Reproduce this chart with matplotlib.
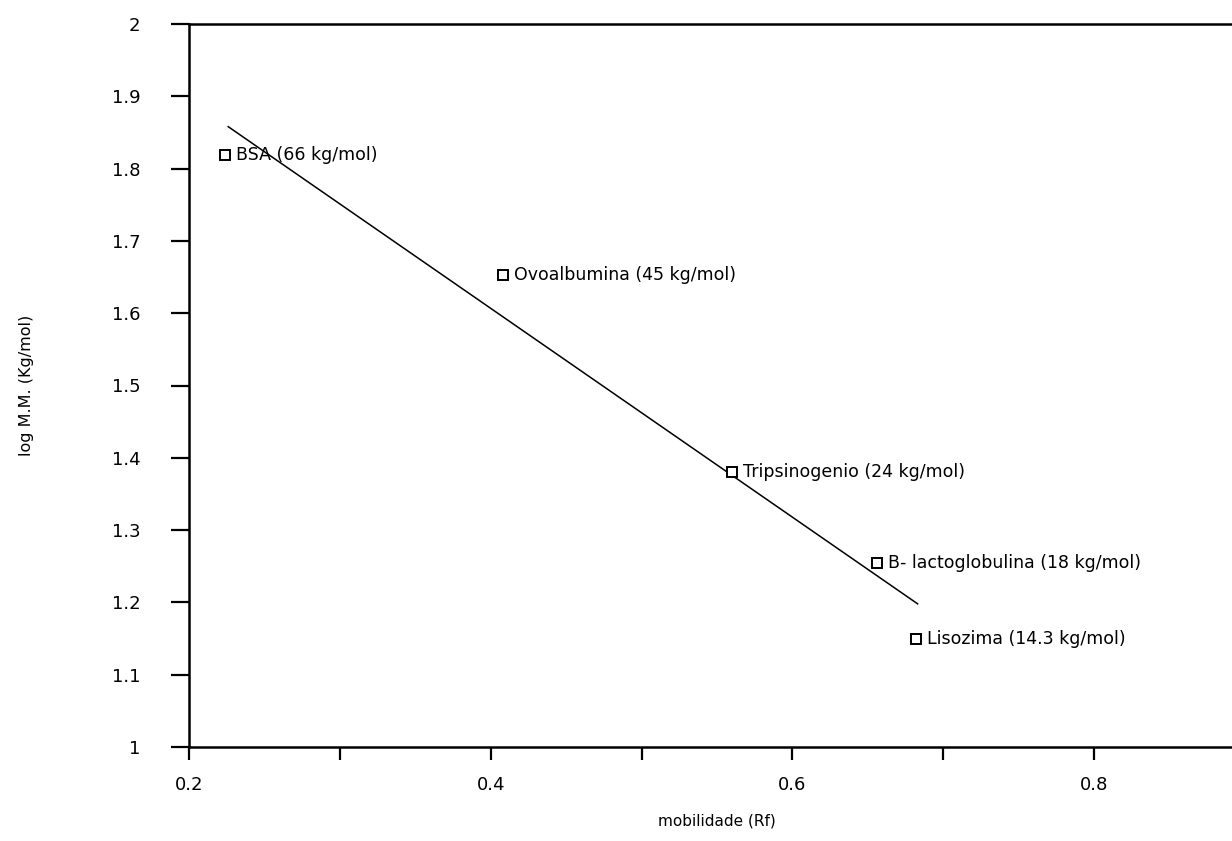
import matplotlib
matplotlib.use("Agg")
import matplotlib.pyplot as plt

# padroes de proteina: mobilidade relativa (Rf) e log da massa molar
proteinas = ["BSA (66 kg/mol)", "Ovoalbumina (45 kg/mol)", "Tripsinogenio (24 kg/mol)",
             "B- lactoglobulina (18 kg/mol)", "Lisozima (14.3 kg/mol)"]
rf = [0.224, 0.408, 0.560, 0.656, 0.682]
log_mm = [1.819, 1.653, 1.380, 1.255, 1.150]

# reta de ajuste (inicio e fim)
reta_x = [0.226, 0.683]
reta_y = [1.858, 1.198]

plt.rcParams['font.family'] = ['DejaVu Sans']

fig = plt.figure(figsize=(12.32, 8.41), dpi=100)
ax = fig.add_axes([189 / 1232, 94 / 841, 1056 / 1232, 723 / 841])

ax.plot(reta_x, reta_y, color='black', linewidth=1.1)
ax.plot(rf, log_mm, linestyle='none', marker='s', markersize=7.5,
        markerfacecolor='white', markeredgecolor='black', markeredgewidth=1.4)

for x, y, nome in zip(rf, log_mm, proteinas):
    ax.annotate(nome, xy=(x, y), xytext=(8, 0), textcoords='offset points',
                va='center', ha='left', fontsize=12.5)

ax.set_xlim(0.2, 0.9)
ax.set_ylim(1, 2)
ax.set_xticks([0.2, 0.3, 0.4, 0.5, 0.6, 0.7, 0.8])
ax.set_xticklabels(["0.2", "", "0.4", "", "0.6", "", "0.8"])
ax.set_yticks([1, 1.1, 1.2, 1.3, 1.4, 1.5, 1.6, 1.7, 1.8, 1.9, 2])
ax.set_yticklabels(["1", "1.1", "1.2", "1.3", "1.4", "1.5", "1.6", "1.7", "1.8", "1.9", "2"])

ax.tick_params(axis='y', direction='out', length=13, width=1.6, pad=22, labelsize=13)
ax.tick_params(axis='x', direction='out', length=9, width=1.6, pad=12, labelsize=13)
for lado in ['left', 'bottom', 'top']:
    ax.spines[lado].set_linewidth(1.8)
ax.spines['right'].set_visible(False)

ax.set_xlabel("mobilidade (Rf)", fontsize=11, labelpad=14)
ax.set_ylabel("log M.M. (Kg/mol)", fontsize=11.5, labelpad=56)

fig.savefig("out.png", dpi=100)
